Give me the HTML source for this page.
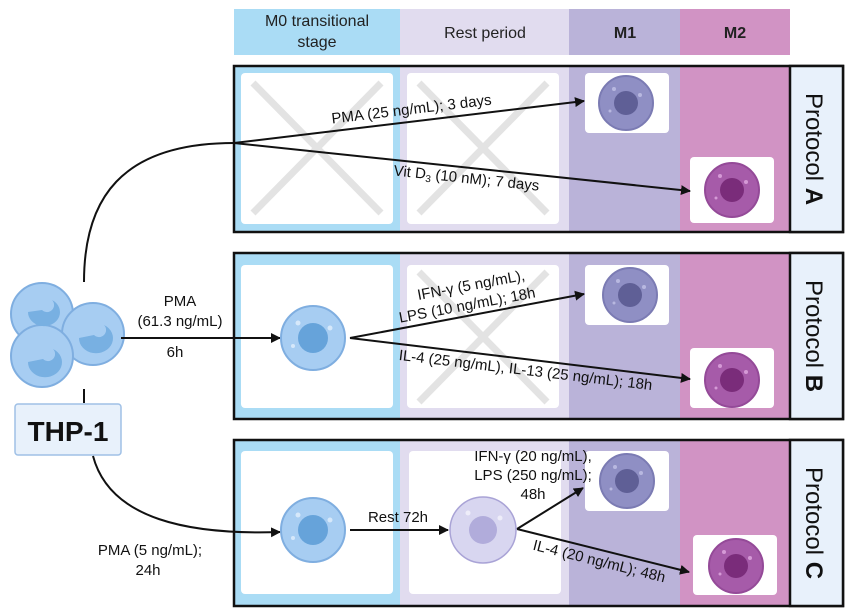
<!DOCTYPE html>
<html><head><meta charset="utf-8"><style>
html,body{margin:0;padding:0;background:#fff}
svg{display:block;font-family:"Liberation Sans",sans-serif}
</style></head><body>
<svg width="850" height="614" viewBox="0 0 850 614" xmlns="http://www.w3.org/2000/svg">
<defs>
<marker id="ar" viewBox="0 0 10 10" refX="9" refY="5" markerWidth="5" markerHeight="5" orient="auto"><path d="M0,0L10,5L0,10z" fill="#111"/></marker>
<g id="m1c"><circle r="27" fill="#8f8fc4" stroke="#7b7bb3" stroke-width="2"/><circle r="12" fill="#5f5f96"/><circle cx="-12" cy="-14" r="2" fill="#b8b8e0"/><circle cx="14" cy="-8" r="2" fill="#b8b8e0"/><circle cx="-16" cy="8" r="1.5" fill="#b8b8e0"/></g>
<g id="m2c"><circle r="27" fill="#a65ba9" stroke="#944a98" stroke-width="2"/><circle r="12" fill="#7a2c7a"/><circle cx="-12" cy="-14" r="2" fill="#d59ad6"/><circle cx="14" cy="-8" r="2" fill="#d59ad6"/><circle cx="-16" cy="8" r="1.5" fill="#d59ad6"/></g>
<g id="m0c"><circle r="32" fill="#a7cdf2" stroke="#7faee0" stroke-width="2"/><circle r="15" fill="#66a3da"/><circle cx="-15" cy="-15" r="2.5" fill="#d6e8fa"/><circle cx="17" cy="-10" r="2.5" fill="#d6e8fa"/><circle cx="-20" cy="8" r="2" fill="#d6e8fa"/></g>
<g id="xb"><line x1="12" y1="10" x2="140" y2="140" stroke="#e3e3e3" stroke-width="7"/><line x1="140" y1="10" x2="12" y2="140" stroke="#e3e3e3" stroke-width="7"/></g>
</defs>
<rect x="234" y="9" width="166" height="46" fill="#aadcf5"/>
<rect x="400" y="9" width="169" height="46" fill="#e1dcef"/>
<rect x="569" y="9" width="111" height="46" fill="#bab3d9"/>
<rect x="680" y="9" width="110" height="46" fill="#d193c4"/>
<text x="317" y="26" font-size="16" text-anchor="middle" fill="#222">M0 transitional</text>
<text x="317" y="47" font-size="16" text-anchor="middle" fill="#222">stage</text>
<text x="485" y="38" font-size="16" text-anchor="middle" fill="#222">Rest period</text>
<text x="625" y="38" font-size="16" font-weight="bold" text-anchor="middle" fill="#222">M1</text>
<text x="735" y="38" font-size="16" font-weight="bold" text-anchor="middle" fill="#222">M2</text>

<g>
<rect x="234" y="66" width="166" height="166" fill="#aadcf5"/><rect x="400" y="66" width="169" height="166" fill="#e1dcef"/><rect x="569" y="66" width="111" height="166" fill="#bab3d9"/><rect x="680" y="66" width="110" height="166" fill="#d193c4"/>
<rect x="241" y="73" width="152" height="151" rx="4" fill="#fff"/><rect x="407" y="73" width="152" height="151" rx="4" fill="#fff"/>
<use href="#xb" x="241" y="73"/><use href="#xb" x="407" y="73"/>
<rect x="585" y="73" width="84" height="60" rx="4" fill="#fff"/><rect x="690" y="157" width="84" height="66" rx="4" fill="#fff"/>
<use href="#m1c" x="626" y="103"/><use href="#m2c" x="732" y="190"/>
<rect x="234" y="66" width="609" height="166" fill="none" stroke="#111" stroke-width="2.5"/>
<rect x="790" y="66" width="53" height="166" fill="#e8f1fb" stroke="#111" stroke-width="2.5"/>
<text transform="translate(806,149) rotate(90)" font-size="24" text-anchor="middle" fill="#111">Protocol <tspan font-weight="bold">A</tspan></text>
</g>
<g>
<rect x="234" y="253" width="166" height="166" fill="#aadcf5"/><rect x="400" y="253" width="169" height="166" fill="#e1dcef"/><rect x="569" y="253" width="111" height="166" fill="#bab3d9"/><rect x="680" y="253" width="110" height="166" fill="#d193c4"/>
<rect x="241" y="265" width="152" height="143" rx="4" fill="#fff"/><rect x="407" y="265" width="152" height="143" rx="4" fill="#fff"/>
<use href="#xb" x="407" y="262"/>
<rect x="585" y="265" width="84" height="60" rx="4" fill="#fff"/><rect x="690" y="348" width="84" height="60" rx="4" fill="#fff"/>
<use href="#m1c" x="630" y="295"/><use href="#m2c" x="732" y="380"/>
<rect x="234" y="253" width="609" height="166" fill="none" stroke="#111" stroke-width="2.5"/>
<rect x="790" y="253" width="53" height="166" fill="#e8f1fb" stroke="#111" stroke-width="2.5"/>
<text transform="translate(806,336) rotate(90)" font-size="24" text-anchor="middle" fill="#111">Protocol <tspan font-weight="bold">B</tspan></text>
</g>
<g>
<rect x="234" y="440" width="166" height="166" fill="#aadcf5"/><rect x="400" y="440" width="169" height="166" fill="#e1dcef"/><rect x="569" y="440" width="111" height="166" fill="#bab3d9"/><rect x="680" y="440" width="110" height="166" fill="#d193c4"/>
<rect x="241" y="451" width="152" height="143" rx="4" fill="#fff"/><rect x="409" y="451" width="152" height="143" rx="4" fill="#fff"/>
<rect x="585" y="451" width="84" height="60" rx="4" fill="#fff"/><rect x="693" y="535" width="84" height="60" rx="4" fill="#fff"/>
<use href="#m1c" x="627" y="481"/><use href="#m2c" x="736" y="566"/>
<rect x="234" y="440" width="609" height="166" fill="none" stroke="#111" stroke-width="2.5"/>
<rect x="790" y="440" width="53" height="166" fill="#e8f1fb" stroke="#111" stroke-width="2.5"/>
<text transform="translate(806,523) rotate(90)" font-size="24" text-anchor="middle" fill="#111">Protocol <tspan font-weight="bold">C</tspan></text>
</g>

<g stroke="#7faee0" stroke-width="2">
<circle cx="42" cy="314" r="31" fill="#a7cdf2"/>
<circle cx="93" cy="334" r="31" fill="#a7cdf2"/>
<circle cx="42" cy="356" r="31" fill="#a7cdf2"/>
</g>
<g fill="#78b0e2">
<path d="M28,312 a16,14 0 1 0 24,-12 a7,7 0 0 1 -10,10z"/>
<path d="M79,338 a17,15 0 1 0 25,-13 a7,7 0 0 1 -10,10z"/>
<path d="M28,362 a17,15 0 1 0 25,-13 a7,7 0 0 1 -10,10z"/>
</g>
<rect x="15" y="404" width="106" height="51" rx="3" fill="#e8f1fb" stroke="#9fc0e6" stroke-width="1.5"/>
<text x="68" y="441" font-size="28" font-weight="bold" text-anchor="middle" fill="#111">THP-1</text>

<g stroke="#111" stroke-width="2" fill="none">
<path d="M84,282 C84,200 120,143 234,143"/>
<line x1="234" y1="143" x2="584" y2="101" marker-end="url(#ar)"/>
<line x1="234" y1="143" x2="690" y2="191" marker-end="url(#ar)"/>
<line x1="84" y1="389" x2="84" y2="403"/>
<path d="M93,456 C110,520 190,535 280,532" marker-end="url(#ar)"/>
<line x1="121" y1="338" x2="280" y2="338" marker-end="url(#ar)"/>
<line x1="350" y1="338" x2="584" y2="294" marker-end="url(#ar)"/>
<line x1="350" y1="338" x2="690" y2="379" marker-end="url(#ar)"/>
<line x1="350" y1="530" x2="448" y2="530" marker-end="url(#ar)"/>
<line x1="517" y1="529" x2="583" y2="488" marker-end="url(#ar)"/>
<line x1="517" y1="529" x2="689" y2="572" marker-end="url(#ar)"/>
</g>
<use href="#m0c" x="313" y="338"/>
<use href="#m0c" x="313" y="530"/>
<g><circle cx="483" cy="530" r="33" fill="#d8d6f0" stroke="#a9a3d6" stroke-width="1.5"/><circle cx="483" cy="530" r="14" fill="#b1acdb"/><circle cx="468" cy="513" r="2.5" fill="#eeedf9"/><circle cx="500" cy="518" r="2.5" fill="#eeedf9"/></g>

<g font-size="15" fill="#111">
<text transform="translate(412,114) rotate(-6.8)" text-anchor="middle">PMA (25 ng/mL); 3 days</text>
<text transform="translate(466,183) rotate(6)" text-anchor="middle">Vit D<tspan font-size="10" dy="3">3</tspan><tspan dy="-3"> (10 nM); 7 days</tspan></text>
<text x="180" y="306" text-anchor="middle">PMA</text>
<text x="180" y="326" text-anchor="middle">(61.3 ng/mL)</text>
<text x="175" y="357" text-anchor="middle">6h</text>
<text transform="translate(472,290) rotate(-10.6)" text-anchor="middle">IFN-γ (5 ng/mL),</text>
<text transform="translate(468,310) rotate(-10.6)" text-anchor="middle">LPS (10 ng/mL); 18h</text>
<text transform="translate(525,375) rotate(6.8)" text-anchor="middle">IL-4 (25 ng/mL), IL-13 (25 ng/mL); 18h</text>
<text x="398" y="522" text-anchor="middle">Rest 72h</text>
<text x="533" y="461" text-anchor="middle">IFN-γ (20 ng/mL),</text>
<text x="533" y="480" text-anchor="middle">LPS (250 ng/mL);</text>
<text x="533" y="499" text-anchor="middle">48h</text>
<text transform="translate(598,566) rotate(14)" text-anchor="middle">IL-4 (20 ng/mL); 48h</text>
<text x="150" y="555" text-anchor="middle">PMA (5 ng/mL);</text>
<text x="148" y="575" text-anchor="middle">24h</text>
</g>
</svg>
</body></html>
